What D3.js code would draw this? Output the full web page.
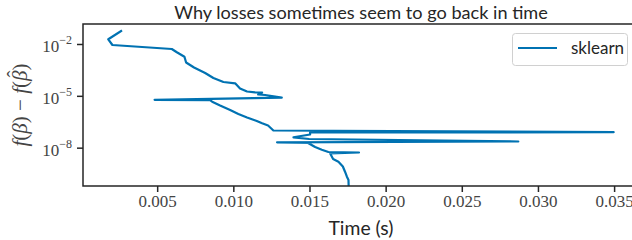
<!DOCTYPE html>
<head>
	<script src="https://d3js.org/d3.v7.min.js"></script>
	<style>
		body { margin: 0; background: #fff; }
		svg { display: block; }
	</style>
</head>
<body>
	<script type="text/javascript">
		var width = 632;
		var height = 240;

		// time (s) and suboptimality f(beta) - f(beta_hat), in iteration order
		var times = [0.00263, 0.00179, 0.00206, 0.00596, 0.00629, 0.00679, 0.00690, 0.00742,
			0.00815, 0.00869, 0.00935, 0.01012, 0.01044, 0.01090, 0.01143, 0.01189, 0.01163,
			0.01209, 0.01318, 0.00483, 0.00847, 0.00861, 0.00913, 0.00979, 0.01033, 0.01090,
			0.01154, 0.01189, 0.01228, 0.01263, 0.03497, 0.01504, 0.01504, 0.01395, 0.01498,
			0.02871, 0.01287, 0.01491, 0.01537, 0.01581, 0.01624, 0.01825, 0.01636, 0.01655,
			0.01690, 0.01719, 0.01734, 0.01745, 0.01756, 0.01758];
		var losses = [5.65e-2, 1.87e-2, 8.75e-3, 5.14e-3, 3.31e-3, 1.84e-3, 8.49e-4, 4.37e-4,
			2.10e-4, 1.08e-4, 6.32e-5, 5.32e-5, 2.66e-5, 1.78e-5, 1.60e-5, 1.56e-5, 1.20e-5,
			1.12e-5, 7.80e-6, 5.90e-6, 5.60e-6, 4.58e-6, 2.76e-6, 1.52e-6, 8.89e-7, 5.58e-7,
			3.50e-7, 2.58e-7, 1.92e-7, 9.86e-8, 7.87e-8, 7.55e-8, 5.79e-8, 3.99e-8, 3.18e-8,
			2.28e-8, 2.05e-8, 1.87e-8, 1.09e-8, 7.64e-9, 5.62e-9, 5.26e-9, 4.60e-9, 2.21e-9,
			1.55e-9, 8.15e-10, 3.92e-10, 2.15e-10, 1.35e-10, 3.56e-11];

		var xTicks = [0.005, 0.010, 0.015, 0.020, 0.025, 0.030, 0.035];
		var yTickExp = [-2, -5, -8];
		var title = "Why losses sometimes seem to go back in time";
		var xLabel = "Time (s)";
		var seriesName = "sklearn";

		// plot box (window.top is read-only, so no bare "top")
		var plotLeft = 83, plotRight = 640, plotTop = 24, plotBottom = 186;
		var blue = "#0072b2";
		var ink = "#262626";

		var x = d3.scaleLinear().domain([0.00013, 0.0367]).range([plotLeft, plotRight]);
		var y = d3.scaleLog().domain([6.05e-11, 0.1435]).range([plotBottom, plotTop]);

		var svg = d3.select('body').append('svg')
		  .attr('width', width)
		  .attr('height', height);

		svg.append('clipPath').attr('id', 'plotArea')
		  .append('rect')
		  .attr('x', plotLeft).attr('y', plotTop)
		  .attr('width', plotRight - plotLeft).attr('height', plotBottom - plotTop);

		// the trace
		var line = d3.line()
		  .x(function(d, i){ return x(times[i]); })
		  .y(function(d, i){ return y(losses[i]); });

		svg.append('path')
		  .datum(losses)
		  .attr('clip-path', 'url(#plotArea)')
		  .attr('d', line)
		  .attr('fill', 'none')
		  .attr('stroke', blue)
		  .attr('stroke-width', 2.2)
		  .attr('stroke-linejoin', 'round')
		  .attr('stroke-linecap', 'square');

		// x axis
		var xAxis = svg.append('g')
		  .attr('transform', 'translate(0,' + plotBottom + ')')
		  .call(d3.axisBottom(x).tickValues(xTicks).tickSize(6).tickPadding(3)
			.tickFormat(d3.format('.3f')));
		xAxis.select('.domain').remove();
		xAxis.selectAll('line').attr('stroke', ink).attr('stroke-width', 1.5);
		xAxis.selectAll('text')
		  .attr('fill', '#444')
		  .style('font-family', '"Liberation Serif", serif')
		  .style('font-size', '17px');

		// y axis, 10^n labels
		var yAxis = svg.append('g')
		  .attr('transform', 'translate(' + plotLeft + ',0)')
		  .call(d3.axisLeft(y).tickValues(yTickExp.map(function(e){ return Math.pow(10, e); }))
			.tickSize(6).tickFormat(''));
		yAxis.select('.domain').remove();
		yAxis.selectAll('line').attr('stroke', ink).attr('stroke-width', 1.5);
		yAxis.selectAll('.tick').each(function(d, i){
			var t = d3.select(this).append('text')
			  .attr('x', -11)
			  .attr('y', 7.5)
			  .attr('text-anchor', 'end')
			  .attr('fill', '#444')
			  .style('font-family', '"Liberation Serif", serif')
			  .style('font-size', '17px');
			t.append('tspan').text('10');
			t.append('tspan')
			  .attr('dy', -8)
			  .style('font-size', '12px')
			  .text('\u2212' + Math.abs(yTickExp[i]));
		});

		// spines: left, bottom, top
		svg.append('path')
		  .attr('d', 'M' + plotRight + ',' + plotTop + 'H' + plotLeft + 'V' + plotBottom + 'H' + plotRight)
		  .attr('fill', 'none')
		  .attr('stroke', ink)
		  .attr('stroke-width', 1.5);

		// title and labels
		var tt = svg.append('text')
		  .attr('x', 361)
		  .attr('y', 19)
		  .attr('text-anchor', 'middle')
		  .attr('fill', ink)
		  .style('font-family', 'Lato, sans-serif')
		  .style('font-size', '17px')
		  .text(title);
		var tw = tt.node().getComputedTextLength();
		tt.style('font-size', (17 * 374 / tw) + 'px');

		var xl = svg.append('text')
		  .attr('x', 361)
		  .attr('y', 235)
		  .attr('text-anchor', 'middle')
		  .attr('fill', ink)
		  .style('font-family', 'Lato, sans-serif')
		  .style('font-size', '17px')
		  .text(xLabel);
		var xw = xl.node().getComputedTextLength();
		xl.style('font-size', (17 * 65 / xw) + 'px');

		// y label f(beta) - f(beta hat), hat drawn as its own glyph
		var yl = svg.append('text')
		  .attr('transform', 'translate(27,' + ((plotTop + plotBottom) / 2) + ') rotate(-90)')
		  .attr('text-anchor', 'middle')
		  .attr('fill', '#444')
		  .style('font-family', '"Liberation Serif", serif')
		  .style('font-style', 'italic')
		  .style('font-size', '21px');
		yl.append('tspan').text('f');
		yl.append('tspan').style('font-style', 'normal').text('(');
		yl.append('tspan').text('\u03b2');
		yl.append('tspan').style('font-style', 'normal').text(') \u2212 ');
		yl.append('tspan').text('f');
		yl.append('tspan').style('font-style', 'normal').text('(');
		yl.append('tspan').text('\u03b2');
		yl.append('tspan').attr('dx', -7).attr('dy', -5).style('font-style', 'normal').text('\u02c6');
		yl.append('tspan').attr('dx', 0).attr('dy', 5).style('font-style', 'normal').text(')');

		// legend
		var lg = svg.append('g');
		lg.append('rect')
		  .attr('x', 512.5).attr('y', 33.5)
		  .attr('width', 115).attr('height', 32)
		  .attr('rx', 3)
		  .attr('fill', 'rgba(255,255,255,0.8)')
		  .attr('stroke', '#d0d0d0')
		  .attr('stroke-width', 1);
		lg.append('line')
		  .attr('x1', 518).attr('x2', 557)
		  .attr('y1', 48).attr('y2', 48)
		  .attr('stroke', blue)
		  .attr('stroke-width', 2.2);
		lg.append('text')
		  .attr('x', 571).attr('y', 54)
		  .attr('fill', ink)
		  .style('font-family', 'Lato, sans-serif')
		  .style('font-size', '17px')
		  .text(seriesName);
	</script>
</body>
